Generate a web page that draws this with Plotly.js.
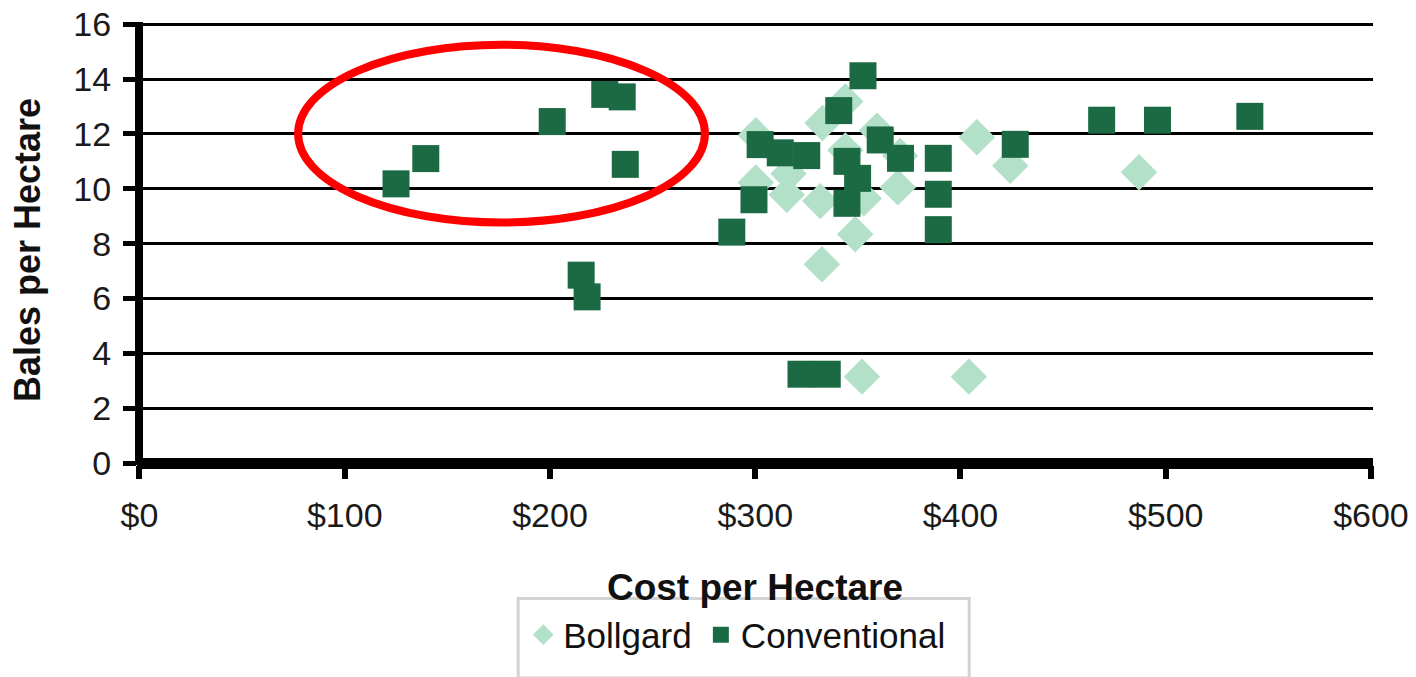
<!DOCTYPE html>
<html><head><meta charset="utf-8">
<script src="https://cdn.plot.ly/plotly-3.0.1.min.js"></script>
<style>html,body{margin:0;padding:0;background:#fff}#chart{width:1416px;height:677px}</style>
</head><body><div id="chart"></div>
<script>
// Bollgard series (cost per hectare in $, bales per hectare)
const bollgardCost  = [300.3, 300.3, 316.2, 315.4, 332.8, 343.9, 343.9, 331.7, 359.3, 370.6, 369.5, 352.9, 348.7, 332.5, 408.0, 424.3, 352.0, 404.1, 487.0];
const bollgardBales = [11.95, 10.23, 10.55, 9.78, 12.40, 13.18, 11.40, 9.55, 12.12, 11.20, 10.05, 9.65, 8.34, 7.25, 11.88, 10.84, 3.15, 3.15, 10.60];
// Conventional series
const conventionalCost  = [125.0, 139.5, 201.1, 226.7, 235.2, 236.7, 215.2, 218.1, 288.6, 299.4, 302.4, 312.2, 325.1, 340.7, 352.5, 344.7, 349.9, 344.7, 360.9, 370.8, 389.2, 389.2, 389.2, 426.7, 468.8, 496.0, 541.0, 322.3, 335.1];
const conventionalBales = [10.18, 11.10, 12.45, 13.44, 13.35, 10.89, 6.85, 6.06, 8.42, 9.60, 11.61, 11.31, 11.21, 12.85, 14.12, 11.00, 10.38, 9.47, 11.78, 11.11, 11.11, 9.80, 8.51, 11.62, 12.50, 12.50, 12.64, 3.24, 3.24];
// Axis ticks
const xTickVals = [0, 100, 200, 300, 400, 500, 600];
const xTickText = ['$0', '$100', '$200', '$300', '$400', '$500', '$600'];
const yTickVals = [0, 2, 4, 6, 8, 10, 12, 14, 16];
const yTickText = ['0', '2', '4', '6', '8', '10', '12', '14', '16'];
const seriesNames = ['Bollgard', 'Conventional'];
const xTitle = 'Cost per Hectare';
const yTitle = 'Bales per Hectare';

const FONT = '"Liberation Sans", Arial, Helvetica, sans-serif';

const traces = [
  {
    type: 'scatter', mode: 'markers', name: seriesNames[0], legend: 'legend',
    x: bollgardCost, y: bollgardBales,
    marker: {symbol: 'diamond', size: 28, color: '#b3e0c9', line: {width: 0}},
    hoverinfo: 'x+y'
  },
  {
    type: 'scatter', mode: 'markers', name: seriesNames[1], legend: 'legend2',
    x: conventionalCost, y: conventionalBales,
    marker: {symbol: 'square', size: 27, color: '#1b6a43', line: {width: 0}},
    hoverinfo: 'x+y'
  }
];

const legendBase = {
  orientation: 'h', xanchor: 'left', yanchor: 'top', y: -0.3169,
  bgcolor: 'rgba(0,0,0,0)', borderwidth: 0,
  font: {family: FONT, size: 35, color: '#111'},
  itemclick: false, itemdoubleclick: false
};

const layout = {
  width: 1416, height: 677,
  margin: {l: 136.84, r: 43.26, t: 21.8, b: 204, pad: 0},
  paper_bgcolor: '#ffffff', plot_bgcolor: '#ffffff',
  font: {family: FONT, color: '#111', size: 34},
  showlegend: true,
  xaxis: {
    range: [-1.2, 601],
    tickmode: 'array', tickvals: xTickVals, ticktext: xTickText,
    showgrid: false,
    zeroline: true, zerolinecolor: '#000', zerolinewidth: 8,
    showline: false,
    ticks: 'outside', ticklen: 13, tickwidth: 6, tickcolor: '#000',
    ticklabelstandoff: 7,
    tickfont: {family: FONT, size: 34, color: '#1a1a1a'},
    title: {text: xTitle, font: {family: FONT, size: 37, color: '#111', weight: 'bold'}, standoff: 41},
    fixedrange: true
  },
  yaxis: {
    range: [-0.07, 16.08],
    tickmode: 'array', tickvals: yTickVals, ticktext: yTickText,
    showgrid: true, gridcolor: '#000', gridwidth: 3,
    zeroline: true, zerolinecolor: '#000', zerolinewidth: 11,
    showline: false,
    ticks: 'outside', ticklen: 13, tickwidth: 5, tickcolor: '#000',
    ticklabelstandoff: 5,
    tickfont: {family: FONT, size: 34, color: '#1a1a1a'},
    fixedrange: true
  },
  legend: Object.assign({}, legendBase, {x: 0.3125}),
  legend2: Object.assign({}, legendBase, {x: 0.4562}),
  annotations: [
    {text: yTitle, xref: 'paper', yref: 'paper', x: -0.0881, y: 0.4854,
     xanchor: 'center', yanchor: 'middle', textangle: -90, showarrow: false,
     font: {family: FONT, size: 36, color: '#111', weight: 'bold'}}
  ],
  shapes: [
    {type: 'circle', xref: 'x', yref: 'y', x0: 77.3, x1: 275.5, y0: 8.77, y1: 15.25,
     line: {color: '#ff0000', width: 8}, fillcolor: 'rgba(0,0,0,0)', layer: 'above'},
    {type: 'rect', xref: 'paper', yref: 'paper', x0: 0.3084, x1: 0.6733, y0: -0.3014, y1: -0.481,
     line: {color: '#d3d3d3', width: 3}, fillcolor: 'rgba(0,0,0,0)', layer: 'below'}
  ]
};

Plotly.newPlot('chart', traces, layout, {displayModeBar: false, staticPlot: true});
</script>
</body></html>
